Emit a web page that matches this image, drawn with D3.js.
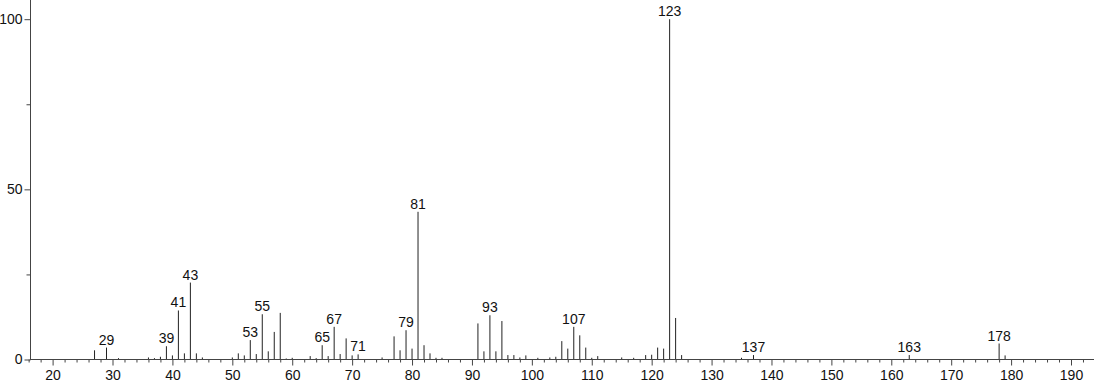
<!DOCTYPE html>
<html>
<head>
<meta charset="utf-8">
<script src="https://cdn.jsdelivr.net/npm/d3@7"></script>
<style>
  body { margin: 0; background: #fff; }
  svg text { font-family: "Liberation Sans", Arial, sans-serif; }
</style>
</head>
<body>
<div id="chart"></div>
<script>
// mass spectrum: m/z and relative intensity
var mz = [27, 29, 31, 36, 37, 38, 39, 40, 41, 42, 43, 44, 45, 50, 51, 52, 53, 54, 55, 56, 57, 58, 59, 60,
  63, 64, 65, 66, 67, 68, 69, 70, 71, 75, 77, 78, 79, 80, 81, 82, 83, 84, 85,
  91, 92, 93, 94, 95, 96, 97, 98, 99, 101, 103, 104, 105, 106, 107, 108, 109, 110, 111,
  115, 117, 119, 120, 121, 122, 123, 124, 125, 135, 137, 163, 178, 179];
var intensity = [2.7, 3.5, 0.4, 0.6, 0.4, 0.8, 3.9, 1.2, 14.4, 1.8, 22.6, 1.8, 0.6, 0.6, 1.8, 1.2, 5.7, 1.6, 13.3, 2.4, 8.1, 13.7, 0.3, 0.5,
  1.0, 0.4, 4.2, 1.0, 9.6, 1.6, 6.2, 1.2, 1.5, 0.6, 6.8, 2.7, 8.6, 3.2, 43.4, 4.2, 1.8, 0.5, 0.5,
  10.6, 2.4, 13.0, 2.4, 11.3, 1.3, 1.3, 0.6, 1.2, 0.5, 0.6, 0.8, 5.4, 3.2, 9.6, 7.1, 3.5, 0.5, 1.0,
  0.6, 0.5, 1.3, 1.4, 3.5, 3.2, 100, 12.2, 1.3, 0.5, 1.3, 1.3, 4.7, 1.2];
var peakLabels = [29, 39, 41, 43, 53, 55, 65, 67, 71, 79, 81, 93, 107, 123, 137, 163, 178];
var xTicks = d3.range(16, 194, 2);
var yTicks = [0, 25, 50, 75, 100];

var width = 1094, height = 384;
var axisX = 30, baseY = 359.5;

var svg = d3.select('#chart').append('svg')
  .attr('width', width)
  .attr('height', height);

var x = d3.scaleLinear().domain([20, 190]).range([52.6, 1071]);
var y = d3.scaleLinear().domain([0, 100]).range([baseY, 19.2]);

var peaks = mz.map(function(m, i) { return { mz: m, v: intensity[i] }; });

// bars
svg.append('g').selectAll('line')
  .data(peaks)
  .enter().append('line')
  .attr('x1', function(d) { return x(d.mz); })
  .attr('x2', function(d) { return x(d.mz); })
  .attr('y1', baseY)
  .attr('y2', function(d) { return y(d.v); })
  .attr('stroke', '#222')
  .attr('stroke-width', 1);

// peak labels
svg.append('g').selectAll('text')
  .data(peaks.filter(function(d) { return peakLabels.indexOf(d.mz) >= 0; }))
  .enter().append('text')
  .attr('x', function(d) { return x(d.mz); })
  .attr('y', function(d) { return y(d.v) - 3; })
  .attr('text-anchor', 'middle')
  .attr('font-size', 14)
  .attr('fill', '#111')
  .text(function(d) { return d.mz; });

// x axis
var xAxis = d3.axisBottom(x)
  .tickValues(xTicks)
  .tickSizeOuter(0)
  .tickFormat(function(d) { return d % 10 === 0 ? d : ''; });
var gx = svg.append('g')
  .attr('transform', 'translate(0,' + baseY + ')')
  .call(xAxis);
gx.select('.domain').remove();
gx.selectAll('.tick line')
  .attr('stroke', '#444')
  .attr('y2', function(d) { return d % 10 === 0 ? 6 : 3; });
gx.selectAll('.tick text')
  .attr('y', 11)
  .attr('font-size', 14)
  .attr('font-family', '"Liberation Sans", Arial, sans-serif')
  .attr('fill', '#111');
svg.append('line')
  .attr('x1', axisX).attr('x2', width)
  .attr('y1', baseY).attr('y2', baseY)
  .attr('stroke', '#444');

// y axis
var yAxis = d3.axisLeft(y)
  .tickValues(yTicks)
  .tickSizeOuter(0)
  .tickPadding(2)
  .tickFormat(function(d) { return d % 50 === 0 ? d : ''; });
var gy = svg.append('g')
  .attr('transform', 'translate(' + (axisX + 0.5) + ',0)')
  .call(yAxis);
gy.select('.domain').remove();
gy.selectAll('.tick line')
  .attr('stroke', '#444')
  .attr('x2', function(d) { return d % 50 === 0 ? -6 : -4; });
gy.selectAll('.tick text')
  .attr('x', -8)
  .attr('font-size', 14)
  .attr('font-family', '"Liberation Sans", Arial, sans-serif')
  .attr('fill', '#111');
svg.append('line')
  .attr('x1', axisX + 0.5).attr('x2', axisX + 0.5)
  .attr('y1', 0).attr('y2', baseY)
  .attr('stroke', '#444');
</script>
</body>
</html>
